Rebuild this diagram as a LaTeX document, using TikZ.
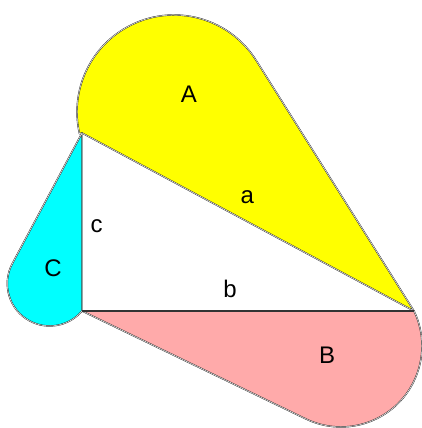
\documentclass[tikz,border=0pt]{standalone}
\usepackage{fontspec}
\setmainfont{Liberation Sans}
\definecolor{pinkB}{HTML}{FFAAAA}
\definecolor{cyanC}{HTML}{00FFFF}
\definecolor{yellowA}{HTML}{FFFF00}
\begin{document}
\begin{tikzpicture}[x=1pt,y=1pt,
  shapeline/.style={draw=black!85, double=white, double distance=0.5pt, line width=0.45pt, line join=round},
  lbl/.style={anchor=base, font=\fontsize{24}{24}\selectfont, inner sep=0pt}]
\useasboundingbox (0,0) rectangle (422,428);
\coordinate (P1) at (82,295);
\coordinate (P2) at (414,117);
\coordinate (P3) at (82,117);
\coordinate (TA) at (256.1,367.7);
\coordinate (TB) at (305.8,9.1);
\coordinate (TC) at (12.3,164.4);
% shape A on side a
\path[fill=yellowA, shapeline] (P1) -- (P2) -- (TA) arc[start angle=32.2, end angle=192.9, radius=97pt] -- cycle;
% shape B on side b
\path[fill=pinkB, shapeline] (P3) -- (TB) arc[start angle=244.25, end angle=385.6, radius=81pt] -- cycle;
% shape C on side c
\path[fill=cyanC, shapeline] (P1) -- (TC) arc[start angle=151.9, end angle=319.7, radius=42.4pt] -- cycle;
% side b
\draw[line width=1.3pt, black!80] (P3) -- (P2);
% labels
\node[lbl] (lA) at (189,325.7) {A};
\node[lbl] (la) at (247.3,224) {a};
\node[lbl] (lb) at (230,130.7) {b};
\node[lbl] (lc) at (96.7,195.3) {c};
\node[lbl] (lC) at (53,151.3) {C};
\node[lbl] (lB) at (327,64) {B};
\end{tikzpicture}
\end{document}
